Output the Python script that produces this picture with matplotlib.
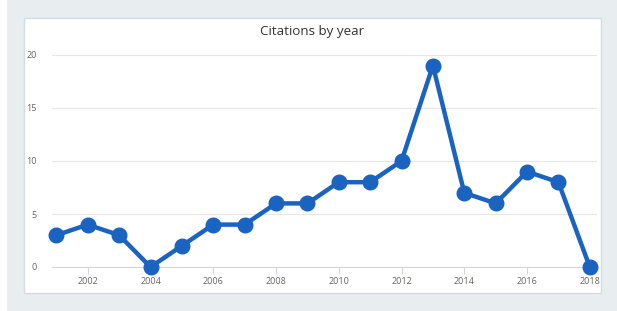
import matplotlib
matplotlib.use("Agg")
import matplotlib.pyplot as plt
from matplotlib.patches import Rectangle

years = [2001, 2002, 2003, 2004, 2005, 2006, 2007, 2008, 2009,
         2010, 2011, 2012, 2013, 2014, 2015, 2016, 2017, 2018]
citations = [3, 4, 3, 0, 2, 4, 4, 6, 6, 8, 8, 10, 19, 7, 6, 9, 8, 0]
x_ticks = [2002, 2004, 2006, 2008, 2010, 2012, 2014, 2016, 2018]
y_ticks = [0, 5, 10, 15, 20]

W, H = 617, 311
plt.rcParams['font.family'] = ['Open Sans', 'DejaVu Sans']

fig = plt.figure(figsize=(W / 100, H / 100), dpi=100)
fig.patch.set_facecolor('white')

# outer grey frame and white panel (pixel coords -> figure fraction)
def box(x0, y0, x1, y1, **kw):
    return Rectangle((x0 / W, 1 - y1 / H), (x1 - x0) / W, (y1 - y0) / H,
                     transform=fig.transFigure, **kw)

fig.patches.append(box(7, 0, 617, 311, facecolor='#e8edf0', edgecolor='none', zorder=-2))
fig.patches.append(box(24, 18, 601, 293, facecolor='white', edgecolor='#d5dde3',
                       linewidth=1, zorder=-1))

fig.text(312.5 / W, 1 - 32 / H, "Citations by year", ha='center', va='center',
         fontsize=9.6, color='#333333')

ax = fig.add_axes([52 / W, 1 - 267 / H, (597 - 52) / W, (267 - 55) / H])
ax.set_zorder(2)
ax.set_facecolor('none')
ax.plot(years, citations, color='#1a63c0', linewidth=3.2, marker='o',
        markersize=10.5, clip_on=False, zorder=3)

ax.set_xlim(2000.86, 2018.23)
ax.set_ylim(0, 20)
ax.set_xticks(x_ticks)
ax.set_yticks(y_ticks)
ax.grid(axis='y', color='#e6e6e6', linewidth=0.8)
ax.set_axisbelow(True)
for s in ['top', 'right', 'left']:
    ax.spines[s].set_visible(False)
ax.spines['bottom'].set_color('#ccd6eb')
ax.spines['bottom'].set_linewidth(0.8)
ax.tick_params(axis='x', colors='#666666', labelsize=6.5, length=5,
               width=0.8, color='#ccd6eb', pad=2)
ax.tick_params(axis='y', colors='#666666', labelsize=6.5, length=0, pad=11)

fig.savefig('out.png', dpi=100)
plt.close(fig)
